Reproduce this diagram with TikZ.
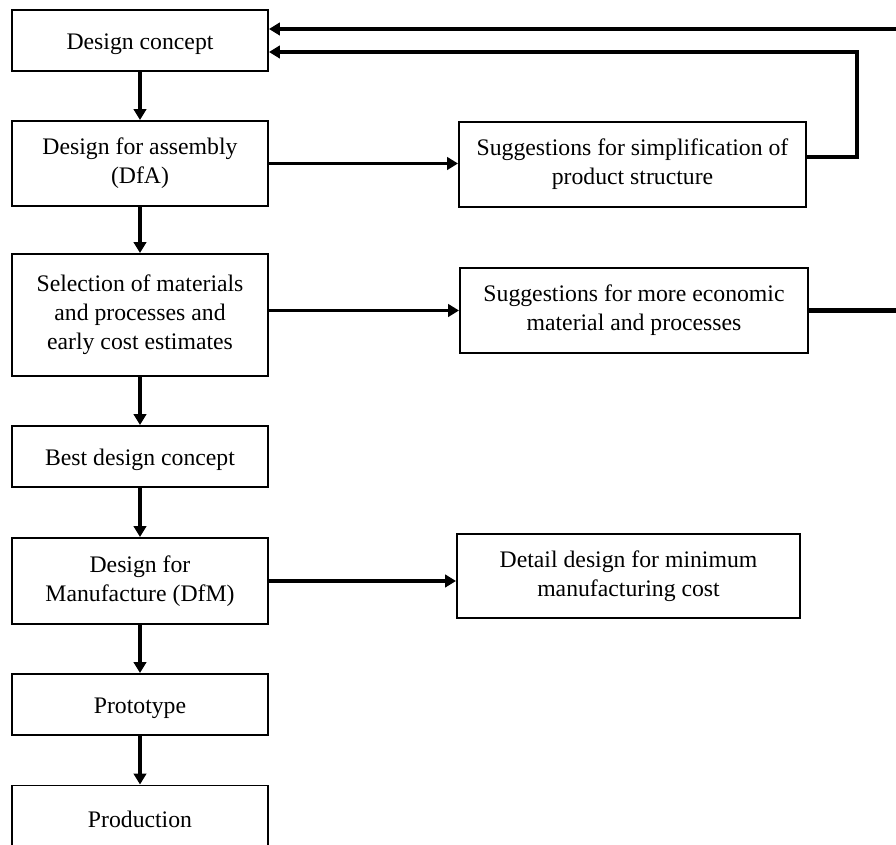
\documentclass[tikz,border=0pt]{standalone}
\usepackage{fontspec}
\setmainfont{Liberation Serif}
\usetikzlibrary{arrows.meta}
\tikzstyle{box}=[draw, line width=1.1pt, align=center, inner sep=0pt, font=\fontsize{13.5}{16.5}\selectfont, execute at begin node={\rule{0pt}{0.48cm}}]
\tikzstyle{leftbox}=[box, minimum width=5.12cm]
\tikzstyle{rightbox}=[box, minimum width=6.94cm, minimum height=1.7cm]
\tikzstyle{flow}=[line width=2pt]
\tikzstyle{back}=[line width=2.3pt]

\begin{document}
\begin{tikzpicture}[>={Triangle[length=0.22cm,width=0.25cm]}]
\useasboundingbox (0,0) rectangle (17.92,-16.9);
\clip (0,0) rectangle (17.92,-16.9);
\draw (2.8,-0.81) node[leftbox, minimum height=1.22cm] (concept) {Design concept};
\draw (2.8,-3.27) node[leftbox, minimum height=1.7cm] (dfa) {Design for assembly\\(DfA)};
\draw (2.8,-6.30) node[leftbox, minimum height=2.44cm] (select) {Selection of materials\\and processes and\\early cost estimates};
\draw (2.8,-9.13) node[leftbox, minimum height=1.22cm] (best) {Best design concept};
\draw (2.8,-11.62) node[leftbox, minimum height=1.72cm] (dfm) {Design for\\Manufacture (DfM)};
\draw (2.8,-14.09) node[leftbox, minimum height=1.22cm] (proto) {Prototype};
\draw (2.8,-16.32) node[leftbox, minimum height=1.22cm] (prod) {Production};

\draw (12.65,-3.29) node[rightbox] (simp) {Suggestions for simplification of\\product structure};
\draw (12.68,-6.21) node[rightbox, minimum width=6.96cm] (econ) {Suggestions for more economic\\material and processes};
\draw (12.57,-11.52) node[rightbox, minimum width=6.86cm, minimum height=1.68cm] (detail) {Detail design for minimum\\manufacturing cost};

\draw[flow, ->] (concept) -- (dfa);
\draw[flow, ->] (dfa) -- (select);
\draw[flow, ->] (select) -- (best);
\draw[flow, ->] (best) -- (dfm);
\draw[flow, ->] (dfm) -- (proto);
\draw[flow, ->] (proto) -- (prod);

\draw[flow, ->] (dfa.east) -- (dfa.east -| simp.west);
\draw[flow, ->] (select.east |- econ.west) -- (econ.west);
\draw[flow, ->] (dfm.east) -- (dfm.east -| detail.west);

% feedback to the concept
\coordinate (turn) at (17.14,-1.04);
\coordinate (edge) at (18.2,-0.58);
\draw[back, ->] ([yshift=0.15cm]simp.east) -| (turn) -- ([yshift=-0.23cm]concept.east);
\draw[back, ->] (econ.east) -| (edge) -- ([yshift=0.23cm]concept.east);
\end{tikzpicture}
\end{document}
